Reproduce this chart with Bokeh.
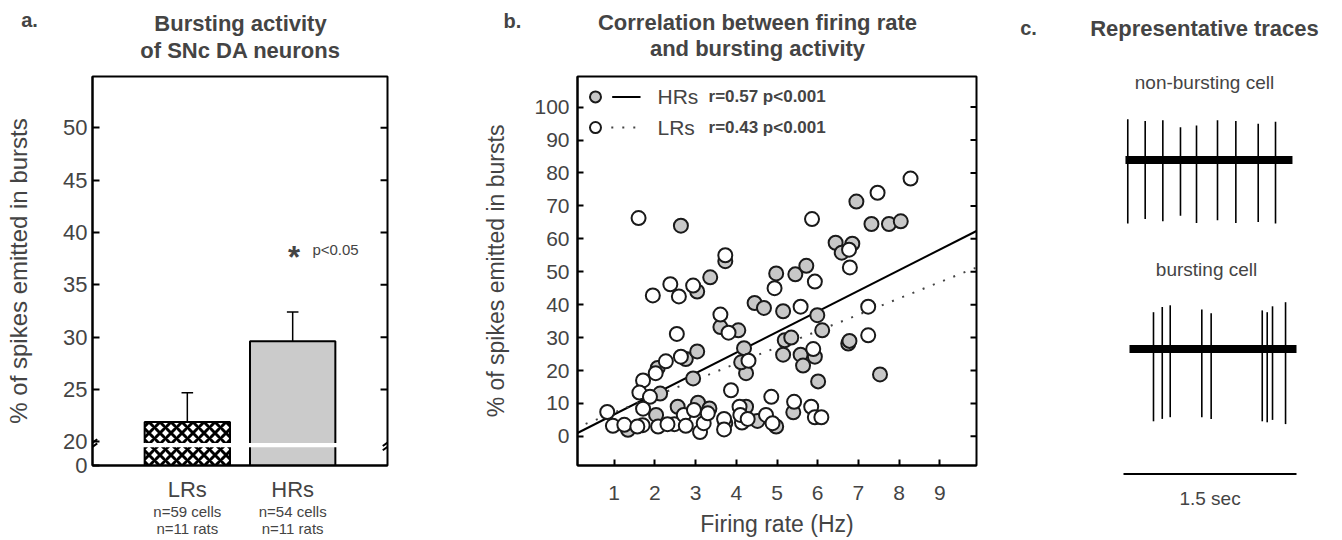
import numpy as np
from bokeh.plotting import figure
from bokeh.layouts import row, column
from bokeh.models import Range1d, LinearAxis, FixedTicker, Label, Arrow
from bokeh.embed import file_html
from bokeh.resources import INLINE

FONT = "Liberation Sans"

# ---------------- Panel a data ----------------
groups = ["LRs", "HRs"]
group_x = [1, 2]
burst_mean = [21.9, 29.6]
burst_sem = [2.8, 2.8]
n_info = ["n=59 cells\nn=11 rats", "n=54 cells\nn=11 rats"]
a_ticks = [0, 20, 25, 30, 35, 40, 45, 50]

# ---------------- Panel b data ----------------
hr_rate = [2.64, 3.04, 3.36, 3.73, 4.45, 4.68, 4.98, 5.45, 5.72, 6.44, 6.59, 6.85, 6.95, 7.32, 7.75, 8.04,
           3.61, 4.05, 5.15, 5.99, 6.11, 6.75, 6.78, 7.53, 5.19, 5.35, 5.15, 5.58, 5.64, 5.93, 6.01,
           4.19, 4.24, 4.12, 5.40, 2.76, 3.04, 2.07, 2.13, 2.94, 1.34, 2.03, 2.56, 3.06, 3.34, 3.73,
           4.24, 4.52, 4.98]
hr_burst = [64.0, 44.0, 48.3, 53.2, 40.5, 39.0, 49.5, 49.2, 51.8, 58.8, 55.8, 58.5, 71.3, 64.5, 64.5, 65.3,
            33.2, 32.2, 38.0, 36.8, 32.2, 28.2, 29.0, 18.8, 29.2, 30.0, 24.8, 24.8, 21.5, 24.2, 16.7,
            26.8, 19.2, 22.5, 7.3, 23.5, 25.8, 20.8, 13.0, 17.6, 2.0, 6.5, 9.0, 10.2, 8.5, 4.0,
            9.0, 4.7, 3.0]
lr_rate = [1.60, 1.95, 2.38, 2.59, 2.94, 3.73, 4.94, 5.93, 5.86, 6.77, 6.79, 7.47, 8.28, 5.58, 7.24,
           3.61, 3.81, 7.24, 5.89, 4.30, 3.87, 4.86, 5.42, 5.84, 5.93, 6.09, 2.54, 2.64, 2.27,
           2.02, 1.71, 1.62, 1.88, 0.83, 0.97, 1.25, 1.71, 1.70, 1.57, 2.08, 2.48, 2.31, 2.71, 2.76,
           2.96, 3.11, 3.20, 3.30, 3.70, 3.70, 4.08, 4.14, 4.10, 4.28, 4.73, 4.89]
lr_burst = [66.3, 42.8, 46.2, 42.5, 45.8, 55.0, 45.0, 47.0, 66.0, 56.7, 51.3, 74.0, 78.3, 39.4, 39.4,
            37.0, 31.5, 30.7, 26.5, 23.0, 14.0, 12.0, 10.5, 9.0, 5.8, 5.8, 31.1, 24.2, 22.8,
            19.2, 17.0, 13.3, 12.0, 7.4, 3.2, 3.5, 8.4, 3.4, 3.0, 3.0, 3.7, 3.7, 6.5, 3.2,
            8.0, 1.3, 4.0, 7.0, 5.3, 2.1, 9.0, 4.2, 6.5, 5.3, 6.5, 4.0]
hr_fit = (0.4, 6.26)   # intercept, slope
lr_fit = (2.3, 4.95)
b_labels = ["HRs", "LRs"]
b_stats = ["r=0.57 p<0.001", "r=0.43 p<0.001"]
b_yticks = [0, 10, 20, 30, 40, 50, 60, 70, 80, 90, 100]
b_xticks = [1, 2, 3, 4, 5, 6, 7, 8, 9]

# ---------------- Panel c data ----------------
nb_spike_t = [0.037, 0.188, 0.341, 0.494, 0.633, 0.815, 0.974, 1.168, 1.318]
nb_up = [40.6, 38.9, 39.6, 32.7, 34.4, 39.6, 38.9, 36.2, 38.2]
nb_down = [63.7, 59.2, 61.3, 55.8, 63.0, 60.3, 63.0, 62.0, 63.7]
nb_span = (0.017, 1.465)
bu_spike_t = [0.260, 0.336, 0.405, 0.679, 0.760, 1.203, 1.246, 1.292, 1.405]
bu_up = [36.8, 42.0, 43.7, 39.6, 35.8, 38.6, 36.8, 42.7, 46.8]
bu_down = [72.3, 69.9, 68.2, 68.2, 69.9, 72.3, 73.3, 70.9, 75.1]
bu_span = (0.052, 1.50)
scale_sec = 1.5

HEAD_H = 64


def title_label(fig, x, y, text, size="22px", bold=True, align="center"):
    fig.add_layout(Label(x=x, y=y, text=text, text_font=FONT, text_font_size=size,
                         text_font_style="bold" if bold else "normal",
                         text_align=align, text_baseline="middle"))


# =============== header for panels a and b =================
fh = figure(width=1000, height=HEAD_H, x_range=Range1d(0, 1000), y_range=Range1d(HEAD_H, 0),
            output_backend="svg", toolbar_location=None, min_border=0,
            x_axis_location=None, y_axis_location=None)
fh.grid.visible = False
fh.outline_line_color = None
title_label(fh, 29, 19, "a.", size="20px")
title_label(fh, 240, 23, "Bursting activity")
title_label(fh, 240, 50, "of SNc DA neurons")
title_label(fh, 512, 20, "b.", size="20px")
title_label(fh, 757, 22, "Correlation between firing rate")
title_label(fh, 757, 48, "and bursting activity")

# =============== Panel a =================
A_BOTTOM, BREAK_HI = 17.74, 20.0


def brk(v):
    v = np.asarray(v, dtype=float)
    return np.where(v >= BREAK_HI, v, A_BOTTOM + v * (BREAK_HI - A_BOTTOM) / 20.0)


fa = figure(width=440, height=540 - HEAD_H, x_range=Range1d(0.1, 2.9), y_range=Range1d(A_BOTTOM, 54.9),
            output_backend="svg", toolbar_location=None,
            min_border_left=92, min_border_right=53, min_border_top=12, min_border_bottom=70)
fa.grid.visible = False
fa.outline_line_color = "black"
fa.outline_line_width = 2

a_tick_pos = [float(t) for t in brk(a_ticks)]
ya = fa.yaxis[0]
ya.ticker = FixedTicker(ticks=a_tick_pos)
ya.major_label_overrides = {p: str(t) for p, t in zip(a_tick_pos, a_ticks)}
ya.minor_tick_line_color = None
ya.major_tick_in = 7
ya.major_tick_out = 0
ya.major_tick_line_width = 2
ya.axis_line_width = 2
ya.major_label_text_font = FONT
ya.major_label_text_font_size = "22px"
ya.major_label_standoff = 5
ya.axis_label = "% of spikes emitted in bursts"
ya.axis_label_text_font = FONT
ya.axis_label_text_font_style = "normal"
ya.axis_label_text_font_size = "24px"
ya.axis_label_standoff = 28

xa = fa.xaxis[0]
xa.ticker = FixedTicker(ticks=group_x)
xa.major_label_overrides = {x: g for x, g in zip(group_x, groups)}
xa.major_tick_line_color = None
xa.minor_tick_line_color = None
xa.axis_line_width = 2
xa.major_label_text_font = FONT
xa.major_label_text_font_size = "22px"
xa.major_label_standoff = 5

xa2 = LinearAxis(ticker=FixedTicker(ticks=group_x),
                 major_label_overrides={x: s for x, s in zip(group_x, n_info)},
                 axis_line_color=None, major_tick_line_color=None, minor_tick_line_color=None,
                 major_label_text_font=FONT, major_label_text_font_size="15px",
                 major_label_text_line_height=1.05, major_label_standoff=-8)
fa.add_layout(xa2, "below")

# inward ticks on the right edge
a_rt = a_tick_pos[2:]
fa.segment(x0=[2.9 - 0.066] * len(a_rt), y0=a_rt, x1=[2.9] * len(a_rt), y1=a_rt,
           line_color="black", line_width=2)

bar_w = 0.81
fa.vbar(x=[group_x[0]], top=[float(brk(burst_mean[0]))], bottom=A_BOTTOM, width=bar_w,
        fill_color="white", hatch_pattern="diagonal_cross", hatch_color="black",
        hatch_weight=3, hatch_scale=11, line_color="black", line_width=2)
fa.vbar(x=[group_x[1]], top=[float(brk(burst_mean[1]))], bottom=A_BOTTOM, width=bar_w,
        fill_color="#cbcbcb", line_color="black", line_width=2)
# white break stripe across the bars
fa.vbar(x=group_x, top=19.88, bottom=19.48, width=bar_w + 0.04, fill_color="white", line_color=None)

err_top = [m + s for m, s in zip(burst_mean, burst_sem)]
fa.segment(x0=group_x, y0=burst_mean, x1=group_x, y1=err_top, line_color="black", line_width=1.5)
fa.segment(x0=[x - 0.055 for x in group_x], y0=err_top, x1=[x + 0.055 for x in group_x], y1=err_top,
           line_color="black", line_width=1.5)

# axis break marks
for xb in (0.1, 2.9):
    for dy in (0.0, 0.4):
        fa.add_layout(Arrow(end=None, x_start=xb - 0.045, y_start=19.2 + dy, x_end=xb + 0.045,
                            y_end=19.85 + dy, line_color="black", line_width=2))

fa.add_layout(Label(x=2.012, y=38.4, y_offset=-8, text="*", text_font=FONT, text_font_size="31px",
                    text_font_style="bold", text_align="center", text_baseline="middle"))
fa.add_layout(Label(x=2.187, y=38.4, text="p<0.05", text_font=FONT, text_font_size="15px",
                    text_align="left", text_baseline="middle"))

# =============== Panel b =================
fb = figure(width=560, height=540 - HEAD_H, x_range=Range1d(0.1, 9.9), y_range=Range1d(-8.85, 109.3),
            output_backend="svg", toolbar_location=None,
            min_border_left=137, min_border_right=24, min_border_top=12, min_border_bottom=70)
fb.grid.visible = False
fb.outline_line_color = "black"
fb.outline_line_width = 2

yb = fb.yaxis[0]
yb.ticker = FixedTicker(ticks=b_yticks)
yb.minor_tick_line_color = None
yb.major_tick_in = 6
yb.major_tick_out = 0
yb.major_tick_line_width = 2
yb.axis_line_width = 2
yb.major_label_text_font = FONT
yb.major_label_text_font_size = "21px"
yb.major_label_standoff = 8
yb.axis_label = "% of spikes emitted in bursts"
yb.axis_label_text_font = FONT
yb.axis_label_text_font_style = "normal"
yb.axis_label_text_font_size = "23px"
yb.axis_label_standoff = 22

xb_ = fb.xaxis[0]
xb_.ticker = FixedTicker(ticks=b_xticks)
xb_.minor_tick_line_color = None
xb_.major_tick_in = 6
xb_.major_tick_out = 0
xb_.major_tick_line_width = 2
xb_.axis_line_width = 2
xb_.major_label_text_font = FONT
xb_.major_label_text_font_size = "21px"
xb_.major_label_standoff = 20
xb_.axis_label = "Firing rate (Hz)"
xb_.axis_label_text_font = FONT
xb_.axis_label_text_font_style = "normal"
xb_.axis_label_text_font_size = "23px"
xb_.axis_label_standoff = 8

# inward ticks on the right edge
fb.segment(x0=[9.9 - 0.147] * len(b_yticks), y0=b_yticks, x1=[9.9] * len(b_yticks), y1=b_yticks,
           line_color="black", line_width=2)

xs = np.array([0.1, 9.9])
fb.line(xs, hr_fit[0] + hr_fit[1] * xs, line_color="black", line_width=2)
xs2 = np.array([0.3, 9.9])
fb.line(xs2, lr_fit[0] + lr_fit[1] * xs2, line_color="#444444", line_width=2, line_dash="2 9")

fb.scatter(hr_rate, hr_burst, marker="circle", size=14, fill_color="#c8c8c8",
           line_color="#1a1a1a", line_width=2)
fb.scatter(lr_rate, lr_burst, marker="circle", size=14, fill_color="white",
           line_color="#1a1a1a", line_width=2)

# legend
leg_y = [103.1, 93.8]
fb.scatter([0.542, 0.542], leg_y, marker="circle", size=11, fill_color=["#c8c8c8", "white"],
           line_color="#1a1a1a", line_width=2)
fb.line([0.952, 1.648], [leg_y[0], leg_y[0]], line_color="black", line_width=2)
fb.line([0.93, 1.60], [leg_y[1], leg_y[1]], line_color="#444444", line_width=2, line_dash="2 9")
for lbl, st, yy in zip(b_labels, b_stats, leg_y):
    fb.add_layout(Label(x=2.065, y=yy, text=lbl, text_font=FONT, text_font_size="21px",
                        text_align="left", text_baseline="middle"))
    fb.add_layout(Label(x=3.318, y=yy, text=st, text_font=FONT, text_font_size="17px",
                        text_font_style="bold", text_align="left", text_baseline="middle"))

# =============== Panel c =================
fc = figure(width=342, height=540, x_range=Range1d(-1.0665, 1.8988), y_range=Range1d(0, 540),
            output_backend="svg", toolbar_location=None, min_border=0,
            x_axis_location=None, y_axis_location=None)
fc.grid.visible = False
fc.outline_line_color = None

NB_BASE, BU_BASE = 380.6, 191.5
fc.line(list(nb_span), [NB_BASE, NB_BASE], line_color="black", line_width=8)
fc.segment(x0=nb_spike_t, y0=[NB_BASE + u for u in nb_up], x1=nb_spike_t,
           y1=[NB_BASE - d for d in nb_down], line_color="black", line_width=1.6)
fc.line(list(bu_span), [BU_BASE, BU_BASE], line_color="black", line_width=8)
fc.segment(x0=bu_spike_t, y0=[BU_BASE + u for u in bu_up], x1=bu_spike_t,
           y1=[BU_BASE - d for d in bu_down], line_color="black", line_width=1.6)
fc.line([0, scale_sec], [66.5, 66.5], line_color="black", line_width=2)

title_label(fc, -0.824, 512.5, "c.", size="20px")
title_label(fc, 0.702, 512.5, "Representative traces")
title_label(fc, 0.702, 458, "non-bursting cell", size="19px", bold=False)
title_label(fc, 0.72, 271.4, "bursting cell", size="19px", bold=False)
title_label(fc, scale_sec / 2, 42.4, f"{scale_sec} sec", size="19px", bold=False)

layout = row(column(fh, row(fa, fb)), fc)
open("out.html", "w").write(file_html(layout, INLINE))
